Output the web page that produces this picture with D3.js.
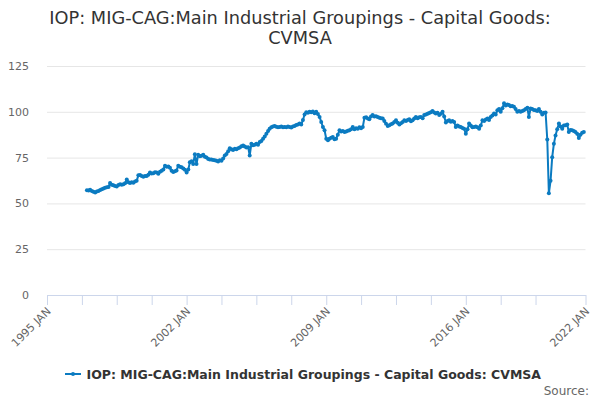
<!DOCTYPE html>
<html>
<head>
<meta charset="utf-8">
<script src="https://cdn.jsdelivr.net/npm/d3@7"></script>
<style>
  body { margin: 0; background: #fff; }
  svg { font-family: "DejaVu Sans", sans-serif; }
</style>
</head>
<body>
<div id="chart"></div>
<script>
// ------------------------------------------
//  Data (monthly)
// ------------------------------------------
const titleLines = ["IOP: MIG-CAG:Main Industrial Groupings - Capital Goods:", "CVMSA"]
const seriesName = "IOP: MIG-CAG:Main Industrial Groupings - Capital Goods: CVMSA"
const firstMonth = "1997-01"
const yTicks = [0, 25, 50, 75, 100, 125]
const xTickDates = ["1995-01", "1996-10", "1998-07", "2000-04", "2002-01", "2003-10", "2005-07",
    "2007-04", "2009-01", "2010-10", "2012-07", "2014-04", "2016-01", "2017-10", "2019-07", "2022-01"]
const xTickLabels = ["1995 JAN", "2002 JAN", "2009 JAN", "2016 JAN", "2022 JAN"]

const values = [
    57.2, 57.0, 57.4, 56.8, 56.3, 55.9, 56.5, 56.8, 57.3, 57.7, 58.1, 58.6,   // 1997
    58.8, 59.0, 61.2, 60.2, 59.9, 59.5, 59.2, 60.0, 60.5, 60.2, 60.5, 61.0,   // 1998
    63.0, 61.5, 61.2, 61.6, 61.3, 62.0, 62.3, 65.3, 65.5, 65.0, 64.6, 65.0,   // 1999
    65.0, 65.6, 66.9, 66.3, 66.5, 67.0, 66.9, 66.2, 67.3, 67.8, 68.5, 70.6,   // 2000
    70.0, 70.2, 69.5, 67.8, 67.2, 67.5, 68.0, 70.6, 70.0, 69.7, 69.0, 68.4,   // 2001
    66.9, 68.5, 72.4, 73.0, 71.5, 76.8, 71.5, 76.5, 75.8, 76.0, 76.5, 75.5,   // 2002
    75.0, 74.3, 74.0, 73.9, 73.7, 73.5, 73.3, 72.9, 73.6, 73.3, 74.5, 76.1,   // 2003
    77.0, 78.5, 80.1, 79.5, 79.2, 79.8, 79.5, 80.1, 80.5, 81.2, 81.6, 81.0,   // 2004
    80.5, 80.7, 76.1, 82.5, 81.8, 82.0, 82.5, 82.0, 83.5, 84.0, 85.3, 86.5,   // 2005
    88.0, 89.5, 90.8, 91.5, 92.0, 92.3, 91.8, 91.5, 91.7, 92.0, 91.6, 91.7,   // 2006
    91.5, 92.0, 91.7, 91.4, 92.0, 92.3, 92.8, 93.0, 93.6, 93.0, 95.5, 98.5,   // 2007
    99.8, 99.5, 100.0, 99.7, 100.1, 99.2, 100.0, 98.8, 97.2, 94.5, 91.7, 89.9, // 2008
    85.3, 84.5, 85.3, 85.8, 86.2, 85.0, 85.3, 87.5, 89.9, 89.2, 89.5, 89.0,   // 2009
    89.3, 89.6, 89.9, 90.5, 91.7, 90.5, 91.0, 90.8, 91.5, 91.0, 91.7, 96.7,   // 2010
    97.0, 96.3, 96.0, 97.5, 98.2, 97.5, 97.6, 97.2, 96.8, 96.5, 96.3, 95.0,   // 2011
    93.5, 92.3, 92.6, 93.2, 93.6, 94.5, 95.4, 94.0, 93.0, 93.8, 94.5, 95.4,   // 2012
    95.0, 95.5, 96.0, 94.8, 95.4, 96.3, 97.2, 96.5, 97.0, 97.2, 96.5, 98.2,   // 2013
    98.5, 99.0, 99.4, 99.8, 100.4, 99.6, 99.1, 99.5, 98.2, 99.0, 100.0, 97.5, // 2014
    94.1, 95.0, 95.4, 94.6, 95.0, 94.5, 91.7, 92.5, 92.0, 91.7, 91.2, 90.8,   // 2015
    88.0, 90.5, 93.6, 92.5, 91.5, 91.7, 92.0, 91.5, 90.8, 92.5, 95.4, 95.0,   // 2016
    95.8, 96.3, 95.5, 97.2, 98.0, 99.1, 98.5, 100.9, 101.5, 100.0, 102.0, 104.6, // 2017
    103.5, 104.0, 103.7, 103.0, 103.2, 102.8, 101.5, 100.0, 100.5, 100.0, 100.4, 100.9, // 2018
    101.5, 102.2, 97.2, 101.8, 101.5, 101.0, 100.9, 100.5, 101.5, 100.0, 98.5, 99.5, // 2019
    99.6, 84.9, 55.5, 62.3, 75.2, 82.5, 87.1, 90.5, 93.6, 92.0, 90.8, 92.5,   // 2020
    92.6, 93.0, 89.0, 90.0, 89.9, 89.5, 89.0, 88.0, 85.7, 87.5, 88.5, 89.0    // 2021
]

// ------------------------------------------
//  Chart
// ------------------------------------------
const parseMonth = d3.timeParse("%Y-%m")
const start = parseMonth(firstMonth)
const data = values.map((v, i) => ({ date: d3.timeMonth.offset(start, i), value: v }))

const width = 600, height = 400
const plot = { left: 47, right: 585.5, top: 66, bottom: 295 }
const lineColor = "#0b7bc1"

const svg = d3.select("#chart").append("svg")
    .attr("width", width)
    .attr("height", height)

const x = d3.scaleTime()
    .domain([parseMonth("1995-01"), parseMonth("2022-01")])
    .range([plot.left, plot.right])
const y = d3.scaleLinear().domain([0, 125]).range([plot.bottom, plot.top])

// title
svg.append("text")
    .attr("x", width / 2)
    .attr("text-anchor", "middle")
    .style("font-size", "17.75px")
    .style("fill", "#333")
    .selectAll("tspan")
    .data(titleLines)
    .enter().append("tspan")
    .attr("x", width / 2)
    .attr("y", (d, i) => 24 + i * 20)
    .text(d => d)

// grid + y labels
const yAxis = svg.append("g")
    .attr("transform", `translate(${plot.left},0)`)
    .call(d3.axisLeft(y).tickValues(yTicks).tickSize(-(plot.right - plot.left)).tickPadding(18))
yAxis.select(".domain").remove()
yAxis.selectAll(".tick line").attr("stroke", "#e6e6e6")
yAxis.selectAll(".tick text")
    .style("font-size", "11px")
    .style("font-family", "DejaVu Sans, sans-serif")
    .attr("fill", "#666")

// x axis
const xAxis = svg.append("g")
    .attr("transform", `translate(0,${plot.bottom})`)
    .call(d3.axisBottom(x)
        .tickValues(xTickDates.map(parseMonth))
        .tickSize(10)
        .tickSizeOuter(0)
        .tickFormat(d => {
            const lbl = d3.timeFormat("%Y JAN")(d)
            return (d.getMonth() === 0 && xTickLabels.includes(lbl)) ? lbl : ""
        }))
xAxis.select(".domain").attr("stroke", "#ccd6eb")
xAxis.selectAll(".tick line").attr("stroke", "#ccd6eb")
xAxis.selectAll(".tick text")
    .style("font-size", "11px")
    .style("font-family", "DejaVu Sans, sans-serif")
    .attr("fill", "#666")
    .attr("text-anchor", "end")
    .attr("dy", null)
    .attr("y", 0)
    .attr("transform", "translate(4,17) rotate(-45)")

// series
const line = d3.line().x(d => x(d.date)).y(d => y(d.value))
svg.append("path")
    .datum(data)
    .attr("fill", "none")
    .attr("stroke", lineColor)
    .attr("stroke-width", 2)
    .attr("stroke-linejoin", "round")
    .attr("d", line)

svg.append("g").selectAll("circle")
    .data(data)
    .enter().append("circle")
    .attr("cx", d => x(d.date))
    .attr("cy", d => y(d.value))
    .attr("r", 2)
    .attr("fill", lineColor)

// legend
const legend = svg.append("g").attr("transform", "translate(65,374)")
legend.append("line")
    .attr("x1", 0).attr("x2", 16)
    .attr("stroke", lineColor).attr("stroke-width", 2)
legend.append("circle").attr("cx", 8).attr("r", 2).attr("fill", lineColor)
legend.append("text")
    .attr("x", 21.5).attr("y", 4.5)
    .style("font-size", "12.5px")
    .style("font-weight", "bold")
    .style("fill", "#333")
    .text(seriesName)

// credits
svg.append("text")
    .attr("x", 589).attr("y", 395)
    .attr("text-anchor", "end")
    .style("font-size", "12px")
    .style("fill", "#666")
    .text("Source:")
</script>
</body>
</html>
